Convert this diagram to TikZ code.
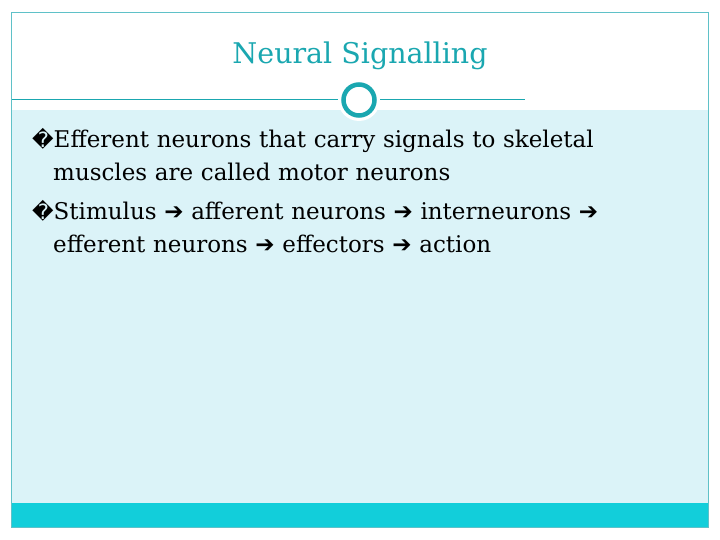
\documentclass[tikz,border=0pt]{standalone}
\usepackage{fontspec}
\setmainfont{DejaVu Serif}
\newfontfamily\symfont{DejaVu Sans}
\definecolor{teal}{HTML}{1AA7B0}
\definecolor{pale}{HTML}{DBF3F8}
\definecolor{bar}{HTML}{12CEDA}
\newcommand{\arr}{{\symfont\bfseries ➔}}
\begin{document}
\begin{tikzpicture}[x=1pt,y=-1pt,
  body/.style={anchor=north west,inner sep=0,font=\fontsize{23}{33}\selectfont,align=left,text width=680}]
\useasboundingbox (0,0) rectangle (720,540);
\fill[white] (0,0) rectangle (720,540);
\fill[pale] (12,110) rectangle (708,503);
\fill[bar] (12,503) rectangle (708,527);
\draw[teal!70,line width=0.8] (11,12) rectangle (708,527);
\draw[teal,line width=1] (12,100) -- (525,100);
\fill[white] (359,100) circle (21);
\draw[teal,line width=4.5,fill=white] (359,100) circle (15.5);
\node[inner sep=0,text=teal,font=\fontsize{28.5}{36}\selectfont] (title) at (360,56) {Neural Signalling};
\node[body] (b1) at (32,128) {{\symfont\fontsize{21}{26}\selectfont �}Efferent neurons that carry signals to skeletal\\\hspace*{21pt}muscles are called motor neurons};
\node[body] (b2) at (32,200) {{\symfont\fontsize{21}{26}\selectfont �}Stimulus \arr{} afferent neurons \arr{} interneurons \arr{}\\\hspace*{21pt}efferent neurons \arr{} effectors \arr{} action};
\end{tikzpicture}
\end{document}
